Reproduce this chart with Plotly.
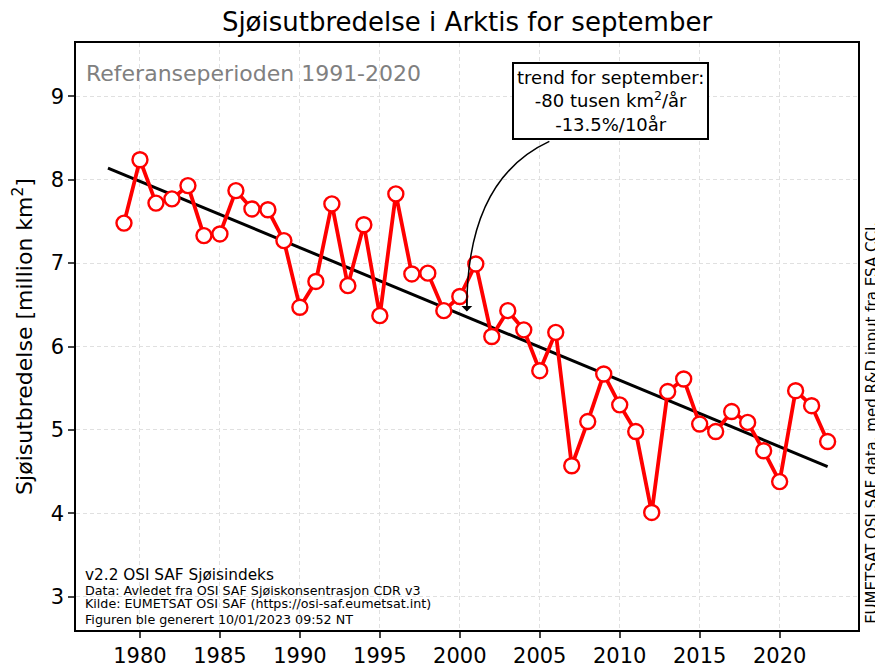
import plotly.graph_objects as go

years = list(range(1979, 2024))
extent = [7.48, 8.24, 7.72, 7.77, 7.93, 7.33, 7.35, 7.87, 7.65, 7.64,
          7.27, 6.47, 6.78, 7.71, 6.73, 7.46, 6.37, 7.83, 6.87, 6.88,
          6.43, 6.60, 6.99, 6.12, 6.43, 6.20, 5.71, 6.17, 4.57, 5.10,
          5.67, 5.30, 4.98, 4.01, 5.46, 5.61, 5.07, 4.98, 5.22, 5.09,
          4.75, 4.38, 5.47, 5.29, 4.86]
trend_years = [1978, 2023]
trend_vals = [8.14, 4.56]
xticks = [1980, 1985, 1990, 1995, 2000, 2005, 2010, 2015, 2020]
yticks = [3, 4, 5, 6, 7, 8, 9]
footer_lines = ["Data: Avledet fra OSI SAF Sjøiskonsentrasjon CDR v3",
                "Kilde: EUMETSAT OSI SAF (https://osi-saf.eumetsat.int)",
                "Figuren ble generert 10/01/2023 09:52 NT"]
footer_ypos = [0.068, 0.0443, 0.0187]

FONT = "DejaVu Sans"

fig = go.Figure()
fig.add_trace(go.Scatter(x=trend_years, y=trend_vals, mode="lines",
                         line=dict(color="black", width=3), showlegend=False))
fig.add_trace(go.Scatter(x=years, y=extent, mode="lines+markers",
                         line=dict(color="#ff0000", width=3.8),
                         marker=dict(symbol="circle", size=15, color="white",
                                     line=dict(color="#ff0000", width=2.4)),
                         showlegend=False))

# curved arrow from box to trend
fig.add_shape(type="path", xref="x", yref="y",
              path="M 2005.6,8.46 Q 2000.4,8.0 2000.44,6.44",
              line=dict(color="black", width=1.5))
fig.add_annotation(x=2000.44, y=6.42, xref="x", yref="y", ax=0, ay=-14,
                   showarrow=True, arrowhead=1, arrowsize=1.2, arrowwidth=1.5,
                   arrowcolor="black", text="")

fig.add_annotation(x=2009.4, y=8.94, xref="x", yref="y",
                   text="trend for september:<br>-80 tusen km<sup>2</sup>/år<br>-13.5%/10år",
                   showarrow=False, align="center",
                   font=dict(family=FONT, size=18, color="black"),
                   bordercolor="black", borderwidth=2, borderpad=3, bgcolor="white")

fig.add_annotation(x=0.01, y=0.9485, xref="paper", yref="paper",
                   text="Referanseperioden 1991-2020", showarrow=False,
                   xanchor="left", yanchor="middle",
                   font=dict(family=FONT, size=22, color="#808080"))

fig.add_annotation(x=0.009, y=0.0937, xref="paper", yref="paper",
                   text="v2.2 OSI SAF Sjøisindeks", showarrow=False,
                   xanchor="left", yanchor="middle",
                   font=dict(family=FONT, size=15.3, color="black"))
for line, yp in zip(footer_lines, footer_ypos):
    fig.add_annotation(x=0.009, y=yp, xref="paper", yref="paper",
                       text=line, showarrow=False, xanchor="left", yanchor="middle",
                       font=dict(family=FONT, size=12.7, color="black"))

fig.add_annotation(x=1.018, y=0.353, xref="paper", yref="paper",
                   text="EUMETSAT OSI SAF data, med R&D input fra ESA CCI.",
                   showarrow=False, textangle=-90, xanchor="center", yanchor="middle",
                   font=dict(family=FONT, size=15, color="black"))

fig.update_layout(
    width=875, height=658,
    margin=dict(l=68, r=25, t=35, b=36, autoexpand=False),
    paper_bgcolor="white", plot_bgcolor="white",
    font=dict(family=FONT, color="black"),
    title=dict(text="Sjøisutbredelse i Arktis for september", x=0.5, xref="paper",
               xanchor="center", y=0.979, yanchor="middle",
               font=dict(family=FONT, size=26)),
)
fig.update_xaxes(range=[1976, 2024.9], tickvals=xticks, ticks="outside", ticklen=6,
                 tickwidth=1.5, tickfont=dict(size=21), showline=True, mirror=True,
                 linecolor="black", linewidth=1.5, showgrid=True, gridcolor="#e0e0e0",
                 griddash="4px,3px", gridwidth=1, zeroline=False, automargin=False)
fig.update_yaxes(range=[2.6, 9.64], tickvals=yticks, ticks="outside", ticklen=6,
                 tickwidth=1.5, tickfont=dict(size=21), showline=True, mirror=True,
                 linecolor="black", linewidth=1.5, showgrid=True, gridcolor="#e0e0e0",
                 griddash="4px,3px", gridwidth=1, zeroline=False, automargin=False,
                 title=dict(text="Sjøisutbredelse [million km<sup>2</sup>]",
                            font=dict(size=22), standoff=12))

fig.write_html("out.html")
